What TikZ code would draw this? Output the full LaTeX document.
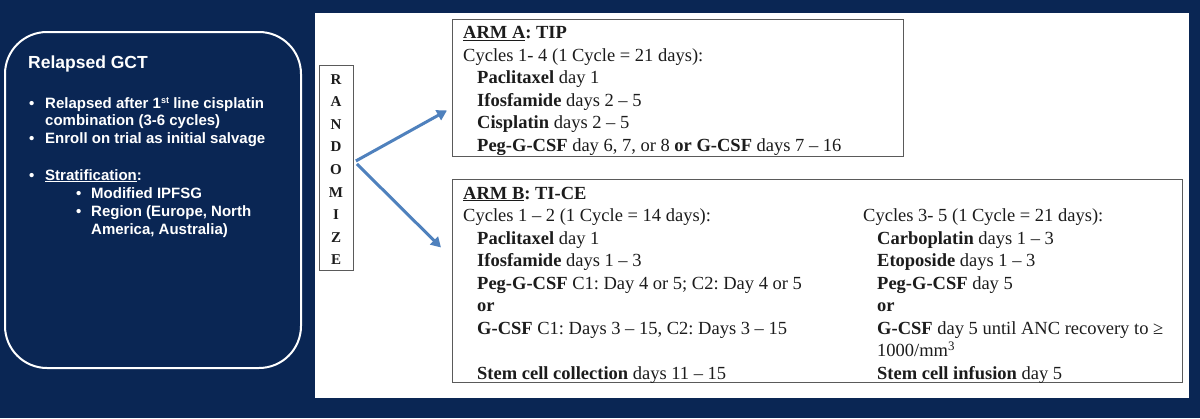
\documentclass[tikz,border=0pt]{standalone}
\usepackage{fontspec}
\setmainfont{Liberation Serif}
\newfontfamily\arialfont{Liberation Sans}
\usetikzlibrary{arrows.meta,calc}
\definecolor{navy}{RGB}{10,38,84}
\definecolor{arrowblue}{RGB}{79,129,189}
\definecolor{ink}{RGB}{28,28,28}
\definecolor{boxgray}{RGB}{90,90,90}
\frenchspacing
\begin{document}
\frenchspacing
\begin{tikzpicture}[x=1pt,y=-1pt,
  lt/.style={anchor=base west, inner sep=0pt, font=\arialfont\bfseries\fontsize{15}{18}\selectfont\frenchspacing, text=white},
  tt/.style={anchor=base west, inner sep=0pt, font=\fontsize{18.5}{22}\selectfont\frenchspacing, text=ink},
  rl/.style={anchor=base, inner sep=0pt, font=\bfseries\fontsize{15}{18}\selectfont, text=ink},
  armbox/.style={draw=boxgray, line width=0.9pt, anchor=north west, inner sep=0pt},
  arr/.style={draw=arrowblue, line width=3pt, -{Triangle[length=10pt,width=11pt]}}
]
\fill[navy] (0,0) rectangle (1200,418);
\useasboundingbox (0,0) rectangle (1200,418);

% panels
\node[fill=white, anchor=north west, inner sep=0pt, minimum width=874pt, minimum height=385pt] (panel) at (315,13) {};
\node[draw=white, line width=2pt, rounded corners=42pt, anchor=north west, inner sep=0pt, minimum width=296pt, minimum height=336pt] (gct) at (4,31) {};

% left text
\node[lt, font=\arialfont\bfseries\fontsize{17.5}{20}\selectfont] (title) at (28,68) {Relapsed GCT};
\node[lt] (b1) at (29,108) {•};
\node[lt] (l1) at (45,108) {Relapsed after 1\raisebox{5pt}{\fontsize{9}{9}\selectfont st} line cisplatin};
\node[lt] (l2) at (45,125.5) {combination (3-6 cycles)};
\node[lt] (b2) at (29,143) {•};
\node[lt] (l3) at (45,143) {Enroll on trial as initial salvage};
\node[lt] (b3) at (29,180) {•};
\node[lt] (l4) at (45,180) {\underline{Stratification}:};
\node[lt] (b4) at (76,198) {•};
\node[lt] (l5) at (91,198) {Modified IPFSG};
\node[lt] (b5) at (76,216) {•};
\node[lt] (l6) at (91,216) {Region (Europe, North};
\node[lt] (l7) at (91,234) {America, Australia)};

% randomize box
\node[armbox, minimum width=34pt, minimum height=205pt] (rand) at (319,65) {};
\foreach \ch [count=\i from 0] in {R,A,N,D,O,M,I,Z,E}
  \node[rl] (r\i) at (336,{84+22.6*\i}) {\ch};

% arm boxes
\node[armbox, minimum width=451pt, minimum height=137pt] (armA) at (452,19) {};
\node[armbox, minimum width=730pt, minimum height=203pt] (armB) at (452,179) {};

% ARM A text
\node[tt] (a0) at (463,38.5) {\textbf{\underline{ARM A}: TIP}};
\node[tt] (a1) at (463,61) {Cycles 1- 4 (1 Cycle = 21 days):};
\node[tt] (a2) at (477,83.5) {\textbf{Paclitaxel} day 1};
\node[tt] (a3) at (477,106) {\textbf{Ifosfamide} days 2 – 5};
\node[tt] (a4) at (477,128.5) {\textbf{Cisplatin} days 2 – 5};
\node[tt] (a5) at (477,151) {\textbf{Peg-G-CSF} day 6, 7, or 8 \textbf{or G-CSF} days 7 – 16};

% ARM B text left column
\node[tt] (b0) at (463,199) {\textbf{\underline{ARM B}: TI-CE}};
\node[tt] (bl1) at (463,221.5) {Cycles 1 – 2 (1 Cycle = 14 days):};
\node[tt] (bl2) at (477,244) {\textbf{Paclitaxel} day 1};
\node[tt] (bl3) at (477,266.5) {\textbf{Ifosfamide} days 1 – 3};
\node[tt] (bl4) at (477,289) {\textbf{Peg-G-CSF} C1: Day 4 or 5; C2: Day 4 or 5};
\node[tt] (bl5) at (477,311.5) {\textbf{or}};
\node[tt] (bl6) at (477,334) {\textbf{G-CSF} C1: Days 3 – 15, C2: Days 3 – 15};
\node[tt] (bl7) at (477,379) {\textbf{Stem cell collection} days 11 – 15};

% ARM B text right column
\node[tt] (br1) at (863,221.5) {Cycles 3- 5 (1 Cycle = 21 days):};
\node[tt] (br2) at (877,244) {\textbf{Carboplatin} days 1 – 3};
\node[tt] (br3) at (877,266.5) {\textbf{Etoposide} days 1 – 3};
\node[tt] (br4) at (877,289) {\textbf{Peg-G-CSF} day 5};
\node[tt] (br5) at (877,311.5) {\textbf{or}};
\node[tt] (br6) at (877,334) {\textbf{G-CSF} day 5 until ANC recovery to ≥};
\node[tt] (br7) at (877,356.5) {1000/mm\textsuperscript{3}};
\node[tt] (br8) at (877,379) {\textbf{Stem cell infusion} day 5};

% arrows
\draw[arr] ($(rand.east)+(2,-7)$) -- ($(armA.west)+(-5,22.5)$);
\draw[arr] ($(rand.east)+(3,-4)$) -- ($(armB.west)+(-11,-33.5)$);
\end{tikzpicture}
\end{document}
